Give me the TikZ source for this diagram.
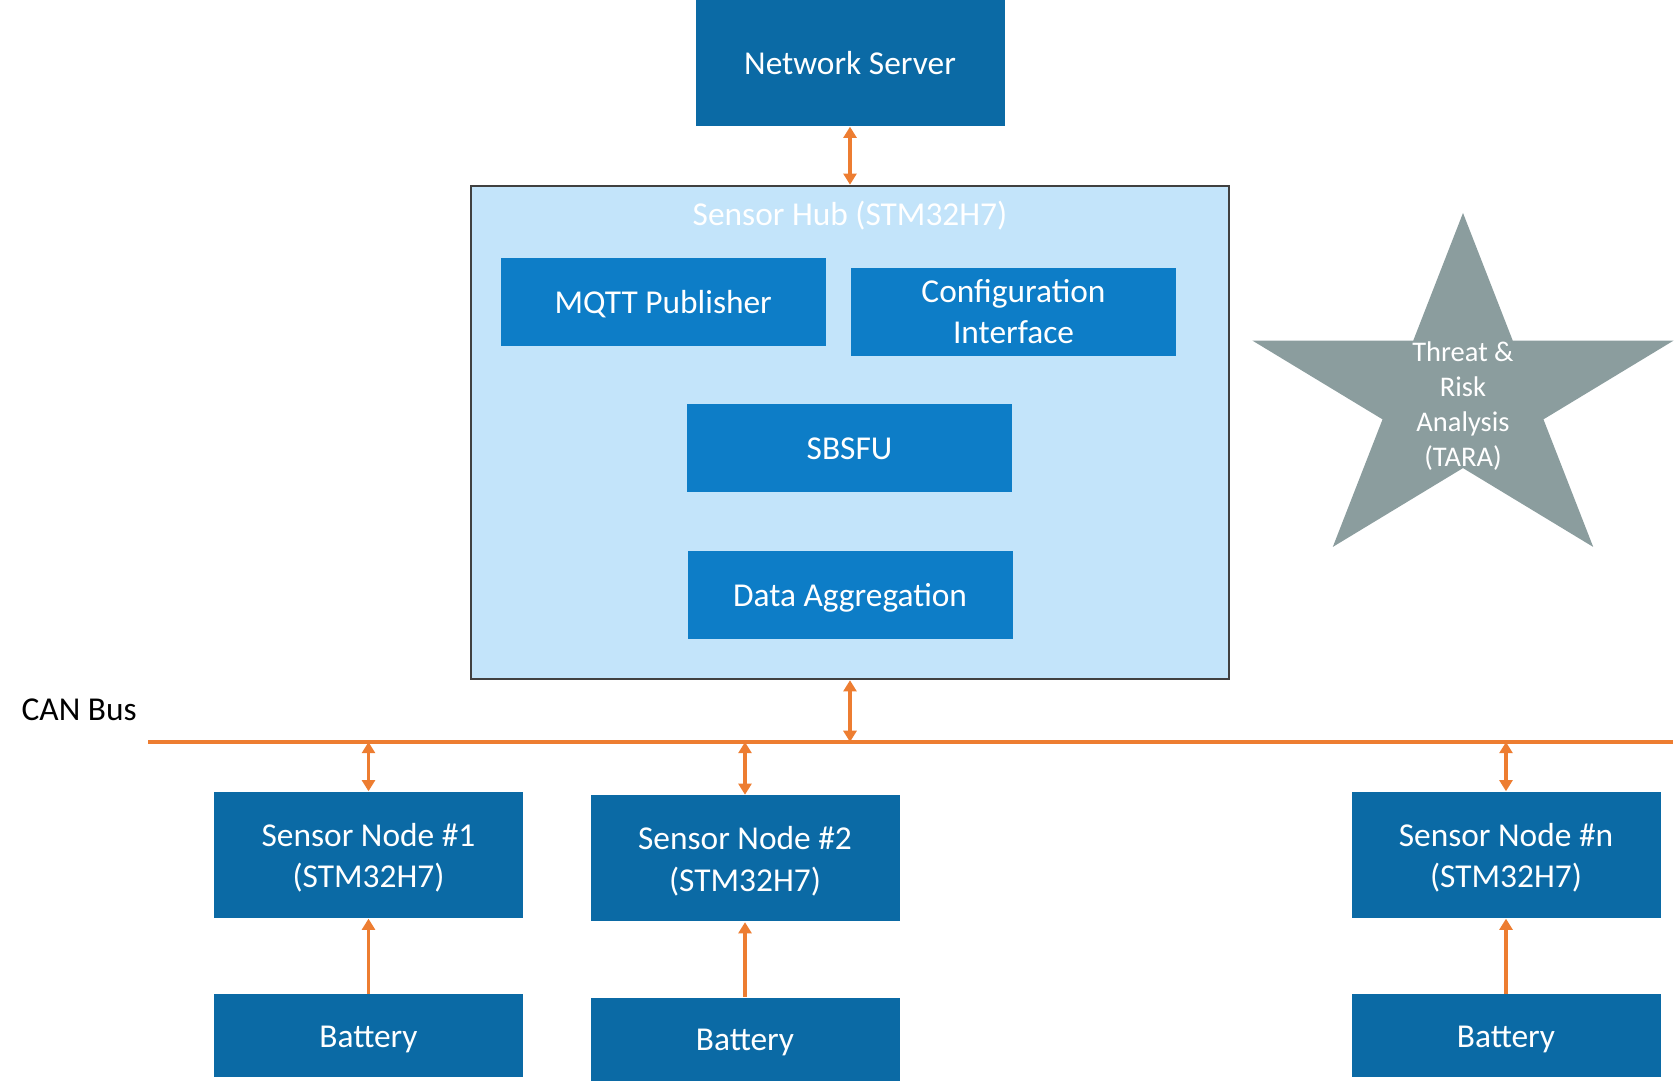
\documentclass[tikz,border=0pt]{standalone}
\usepackage{fontspec}
\setmainfont{Carlito}
\usetikzlibrary{positioning,arrows.meta}

\definecolor{nodeblue}{HTML}{0B6AA5}
\definecolor{blockblue}{HTML}{0D7DC7}
\definecolor{hubfill}{HTML}{C3E4FA}
\definecolor{hubline}{HTML}{404040}
\definecolor{busorange}{HTML}{ED7D31}
\definecolor{tarafill}{HTML}{8B9D9E}

\begin{document}
\begin{tikzpicture}[
    font=\fontsize{9.5}{11.8}\selectfont,
    >={Triangle[length=3.2pt,width=3.7pt]},
    box/.style={
        fill=nodeblue,
        text=white,
        align=center,
        inner sep=0pt,
        minimum width=3.09cm
    },
    oneline/.style={
        text height=8.4pt,
        text depth=2pt
    },
    twoline/.style={
        text height=20pt
    },
    nodebox/.style={
        box,
        minimum height=1.26cm
    },
    batterybox/.style={
        box,
        oneline,
        minimum height=0.83cm
    },
    blockbox/.style={
        box,
        oneline,
        fill=blockblue,
        minimum width=3.25cm,
        minimum height=0.88cm
    },
    hubbox/.style={
        draw=hubline,
        fill=hubfill,
        line width=0.7pt,
        inner sep=0pt,
        minimum width=7.58cm,
        minimum height=4.93cm
    },
    titlelabel/.style={
        text=white
    },
    link/.style={
        <->,
        line width=0.95pt,
        draw=busorange
    },
    feed/.style={
        ->,
        line width=0.95pt,
        draw=busorange
    },
    bus/.style={
        line width=0.9pt,
        draw=busorange
    }
]

\useasboundingbox (0,0) rectangle (16.76,-10.81);

% Network server
\node[nodebox, oneline] (server) at (8.50,-0.63) {Network Server};

% Sensor hub
\node[hubbox] (hub) at (8.50,-4.325) {};
\node[titlelabel] (hubtitle) at (8.50,-2.16) {Sensor Hub (STM32H7)};

\node[blockbox] (mqtt) at (6.633,-3.02) {MQTT Publisher};
\node[blockbox, twoline] (config) at (10.135,-3.12) {Configuration\\Interface};
\node[blockbox] (sbsfu) at (8.495,-4.485) {SBSFU};
\node[blockbox] (aggr) at (8.50,-5.955) {Data Aggregation};

\draw[link] (server) -- (hub);

% CAN bus
\coordinate (busL) at (1.48,-7.42);
\coordinate (busR) at (16.73,-7.42);
\draw[bus] (busL) -- (busR);
\node[anchor=base west, inner sep=0pt] (canlabel) at (0.21,-7.21) {CAN Bus};

\draw[link] (hub.south) -- (hub.south |- busL);

% Sensor nodes and batteries
\foreach \i/\x/\y in {1/3.685/-8.55, 2/7.45/-8.585, n/15.06/-8.55} {
    \node[nodebox, twoline] (sn\i) at (\x,\y) {Sensor Node \#\i\\(STM32H7)};
    \node[batterybox, below=0.75cm of sn\i] (bat\i) {Battery};

    \draw[link] (sn\i.north |- busL) -- (sn\i);
    \draw[feed] (bat\i) -- (sn\i);
}

% TARA star
\fill[tarafill, shift={(14.63,-3.976)}, xscale=1.2] (90:1.846)
    \foreach \k in {0,...,4} { -- ({126+72*\k}:0.705) -- ({162+72*\k}:1.846) } -- cycle;
\node[text=white, align=center, font=\fontsize{8.1}{9.9}\selectfont] (tara) at (14.63,-4.06)
    {Threat \&\\Risk\\Analysis\\(TARA)};

\end{tikzpicture}
\end{document}
